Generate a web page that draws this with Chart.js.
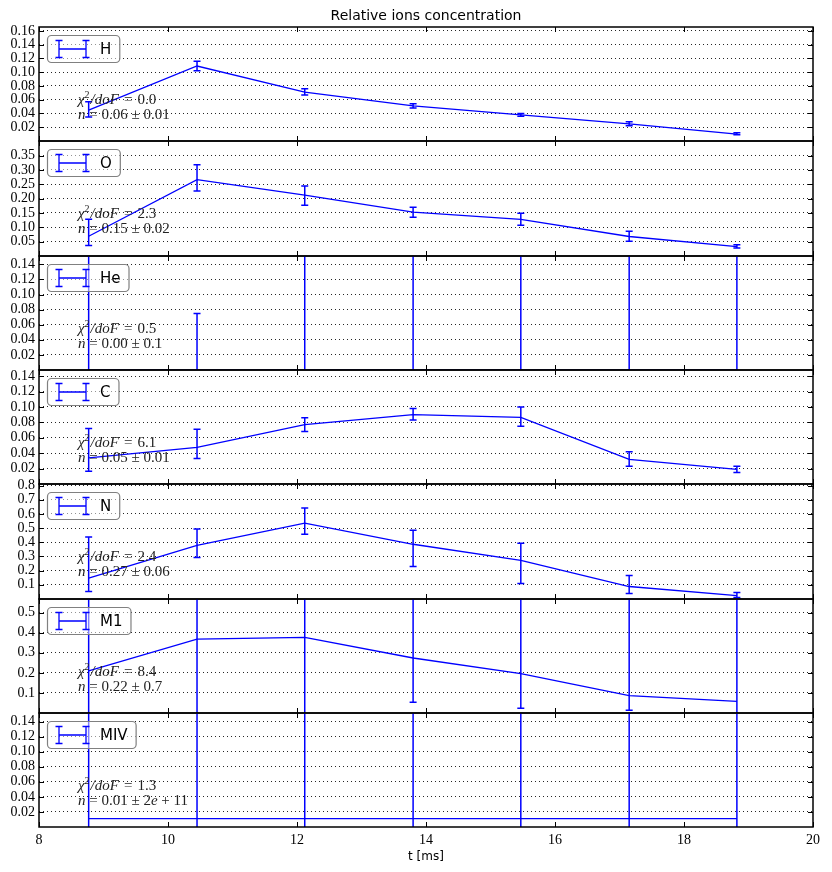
<!DOCTYPE html>
<html>
<head>
<meta charset="utf-8">
<script src="https://cdn.jsdelivr.net/npm/chart.js@4/dist/chart.umd.min.js"></script>
<style>
body { margin: 0; background: #fff; }
#wrap { position: relative; width: 832px; height: 872px; overflow: hidden; background: #fff; }
#wrap canvas { position: absolute; left: 0; }
</style>
</head>
<body>
<div id="wrap"></div>
<script>
// time points (ms) and x tick labels
var tVals = [8.77, 10.45, 12.12, 13.80, 15.47, 17.15, 18.82];
var xTickLabels = ['8', '10', '12', '14', '16', '18', '20'];

// H
var hVals = [0.045, 0.109, 0.071, 0.051, 0.038, 0.025, 0.010];
var hLo   = [0.035, 0.102, 0.067, 0.048, 0.036, 0.022, 0.009];
var hHi   = [0.057, 0.116, 0.076, 0.054, 0.040, 0.028, 0.012];
var hTicks = ['0.02', '0.04', '0.06', '0.08', '0.10', '0.12', '0.14', '0.16'];

// O
var oVals = [0.069, 0.266, 0.212, 0.153, 0.128, 0.068, 0.033];
var oLo   = [0.037, 0.227, 0.177, 0.135, 0.107, 0.051, 0.028];
var oHi   = [0.128, 0.318, 0.244, 0.170, 0.149, 0.086, 0.039];
var oTicks = ['0.05', '0.10', '0.15', '0.20', '0.25', '0.30', '0.35'];

// He
var heVals = [0, 0, 0, 0, 0, 0, 0];
var heLo   = [-0.21, -0.075, -0.32, -0.45, -0.38, -0.29, -0.25];
var heHi   = [0.21, 0.075, 0.32, 0.45, 0.38, 0.29, 0.25];
var heTicks = ['0.02', '0.04', '0.06', '0.08', '0.10', '0.12', '0.14'];

// C
var cVals = [0.034, 0.0475, 0.077, 0.090, 0.0865, 0.032, 0.019];
var cLo   = [0.0165, 0.033, 0.068, 0.083, 0.075, 0.023, 0.015];
var cHi   = [0.072, 0.071, 0.086, 0.098, 0.100, 0.042, 0.023];
var cTicks = ['0.02', '0.04', '0.06', '0.08', '0.10', '0.12', '0.14'];

// N
var nVals = [0.147, 0.379, 0.535, 0.386, 0.272, 0.088, 0.024];
var nLo   = [0.053, 0.292, 0.457, 0.230, 0.109, 0.038, 0.010];
var nHi   = [0.438, 0.493, 0.642, 0.485, 0.393, 0.166, 0.045];
var nTicks = ['0.1', '0.2', '0.3', '0.4', '0.5', '0.6', '0.7', '0.8'];

// M1
var m1Vals = [0.210, 0.368, 0.377, 0.274, 0.196, 0.087, 0.058];
var m1Lo   = [-0.49, -0.33, -0.32, 0.053, 0.024, 0.014, -0.64];
var m1Hi   = [0.91, 1.07, 1.07, 0.99, 0.92, 0.79, 0.76];
var m1Ticks = ['0.1', '0.2', '0.3', '0.4', '0.5'];

// MIV
var mivVals = [0.011, 0.011, 0.011, 0.011, 0.011, 0.011, 0.011];
var mivLo   = [-0.5, -0.5, -0.5, -0.5, -0.5, -0.5, -0.5];
var mivHi   = [0.5, 0.5, 0.5, 0.5, 0.5, 0.5, 0.5];
var mivTicks = ['0.02', '0.04', '0.06', '0.08', '0.10', '0.12', '0.14'];

var ionNames = ['H', 'O', 'He', 'C', 'N', 'M1', 'MIV'];
var yMax = [0.1657, 0.401, 0.151, 0.148, 0.811, 0.568, 0.1514];
var chiTexts = ['0.0', '2.3', '0.5', '6.1', '2.4', '8.4', '1.3'];
var nTexts = ['0.06 ± 0.01', '0.15 ± 0.02', '0.00 ± 0.1', '0.05 ± 0.01', '0.27 ± 0.06', '0.22 ± 0.7', '0.01 ± 2e + 11'];

var panels = [
  { vals: hVals, lo: hLo, hi: hHi, ticks: hTicks },
  { vals: oVals, lo: oLo, hi: oHi, ticks: oTicks },
  { vals: heVals, lo: heLo, hi: heHi, ticks: heTicks },
  { vals: cVals, lo: cLo, hi: cHi, ticks: cTicks },
  { vals: nVals, lo: nLo, hi: nHi, ticks: nTicks },
  { vals: m1Vals, lo: m1Lo, hi: m1Hi, ticks: m1Ticks },
  { vals: mivVals, lo: mivLo, hi: mivHi, ticks: mivTicks }
];

var BLUE = '#0000ff';
var PAD = 20;
var wrap = document.getElementById('wrap');

// draw a line of "math" text: letters italic, rest upright
function drawMath(ctx, x, y, parts) {
  parts.forEach(function (p) {
    ctx.font = (p.it ? 'italic ' : '') + p.size + 'px "Liberation Serif"';
    ctx.fillText(p.t, x + (p.pre || 0), y + (p.dy || 0));
    x += (p.pre || 0) + ctx.measureText(p.t).width + (p.gap || 0);
  });
}

function splitRuns(str) {
  var out = [];
  str.split(/([a-zA-Z]+)/).forEach(function (s) {
    if (s) out.push({ t: s, it: /[a-zA-Z]/.test(s), size: 15 });
  });
  return out;
}

function makePlugin(i) {
  var p = panels[i];
  return {
    id: 'panel' + i,
    afterDatasetsDraw: function (chart) {
      var ctx = chart.ctx, a = chart.chartArea;
      var xs = chart.scales.x, ys = chart.scales.y;
      ctx.save();
      ctx.beginPath();
      ctx.rect(a.left, a.top, a.right - a.left, a.bottom - a.top);
      ctx.clip();
      ctx.strokeStyle = BLUE;
      ctx.lineWidth = 1.5;
      tVals.forEach(function (t, k) {
        var x = xs.getPixelForValue(t);
        var y1 = ys.getPixelForValue(p.lo[k]);
        var y2 = ys.getPixelForValue(p.hi[k]);
        ctx.beginPath();
        ctx.moveTo(x, y1); ctx.lineTo(x, y2);
        ctx.moveTo(x - 3.5, y1); ctx.lineTo(x + 3.5, y1);
        ctx.moveTo(x - 3.5, y2); ctx.lineTo(x + 3.5, y2);
        ctx.stroke();
      });
      ctx.restore();
    },
    afterDraw: function (chart) {
      var ctx = chart.ctx, a = chart.chartArea;
      var xs = chart.scales.x, ys = chart.scales.y;
      ctx.save();

      // fit annotation
      ctx.fillStyle = '#222';
      ctx.textBaseline = 'middle';
      ctx.textAlign = 'left';
      var tx = a.left + 39;
      drawMath(ctx, tx, a.top + 73, [
        { t: 'χ', it: true, size: 15 },
        { t: '2', size: 10, dy: -5, gap: 1 },
        { t: '/doF', it: true, size: 15, gap: 2 },
        { t: '=', size: 15, pre: 3, gap: 5 },
        { t: chiTexts[i], size: 15 }
      ]);
      drawMath(ctx, tx, a.top + 88.5, [{ t: 'n', it: true, size: 15 }, { t: ' = ', size: 15 }].concat(splitRuns(nTexts[i])));

      // frame
      ctx.strokeStyle = '#000';
      ctx.lineWidth = 1.5;
      ctx.strokeRect(a.left, a.top, a.right - a.left, a.bottom - a.top);

      // inward ticks
      ctx.lineWidth = 1;
      ctx.beginPath();
      xTickLabels.forEach(function (t) {
        var x = Math.round(xs.getPixelForValue(parseFloat(t))) + 0.5;
        ctx.moveTo(x, a.top); ctx.lineTo(x, a.top + 5);
        ctx.moveTo(x, a.bottom); ctx.lineTo(x, a.bottom - 5);
      });
      p.ticks.forEach(function (t) {
        var y = Math.round(ys.getPixelForValue(parseFloat(t))) + 0.5;
        ctx.moveTo(a.left, y); ctx.lineTo(a.left + 5, y);
        ctx.moveTo(a.right, y); ctx.lineTo(a.right - 5, y);
      });
      ctx.stroke();

      // legend box
      var bx = a.left + 8, by = a.top + 8, bh = 27;
      ctx.font = '15px "DejaVu Sans"';
      var bw = 53 + ctx.measureText(ionNames[i]).width + 8;
      ctx.beginPath();
      ctx.roundRect(bx + 0.5, by + 0.5, bw, bh, 4);
      ctx.fillStyle = 'rgba(255,255,255,0.5)';
      ctx.fill();
      ctx.strokeStyle = '#808080';
      ctx.lineWidth = 1.2;
      ctx.stroke();

      var cy = by + 14;
      ctx.strokeStyle = BLUE;
      ctx.lineWidth = 1.3;
      ctx.beginPath();
      ctx.moveTo(bx + 12, cy); ctx.lineTo(bx + 39, cy);
      [bx + 12, bx + 39].forEach(function (x) {
        ctx.moveTo(x, cy - 8.5); ctx.lineTo(x, cy + 8.5);
        ctx.moveTo(x - 3.5, cy - 8.5); ctx.lineTo(x + 3.5, cy - 8.5);
        ctx.moveTo(x - 3.5, cy + 8.5); ctx.lineTo(x + 3.5, cy + 8.5);
      });
      ctx.stroke();
      ctx.fillStyle = '#000';
      ctx.font = '15px "DejaVu Sans"';
      ctx.textBaseline = 'middle';
      ctx.fillText(ionNames[i], bx + 53, cy + 1);

      ctx.restore();
    }
  };
}

panels.forEach(function (p, i) {
  var first = i === 0, last = i === panels.length - 1;
  var pTop = Math.round(27 + i * 114.3);
  var pBot = Math.round(27 + (i + 1) * 114.3);
  var cTop = first ? 0 : pTop - PAD;
  var cBot = last ? 872 : pBot + PAD;

  var canvas = document.createElement('canvas');
  canvas.width = 832;
  canvas.height = cBot - cTop;
  canvas.style.top = cTop + 'px';
  wrap.appendChild(canvas);

  new Chart(canvas.getContext('2d'), {
    type: 'line',
    data: {
      datasets: [{
        label: ionNames[i],
        data: tVals.map(function (t, k) { return { x: t, y: p.vals[k] }; }),
        borderColor: BLUE,
        borderWidth: 1.3,
        pointRadius: 0,
        fill: false,
        tension: 0
      }]
    },
    options: {
      responsive: false,
      animation: false,
      devicePixelRatio: 1,
      layout: { padding: { left: 0, right: 19, top: first ? 0 : PAD, bottom: last ? 0 : PAD } },
      scales: {
        x: {
          type: 'linear',
          min: 8,
          max: 20,
          display: last,
          afterBuildTicks: function (s) {
            s.ticks = xTickLabels.map(function (t) { return { value: parseFloat(t) }; });
          },
          afterFit: function (s) { s.height = last ? 872 - pBot : 0; },
          ticks: {
            autoSkip: false,
            maxRotation: 0,
            padding: 5,
            color: '#000',
            font: { family: 'Liberation Serif', size: 14 },
            callback: function (v, idx) { return xTickLabels[idx]; }
          },
          grid: { display: false, drawTicks: false },
          border: { display: false },
          title: {
            display: true,
            text: 't [ms]',
            color: '#000',
            font: { family: 'DejaVu Sans', size: 12 },
            padding: { top: 0, bottom: 8 }
          }
        },
        y: {
          min: 0,
          max: yMax[i],
          afterFit: function (s) { s.width = 39; },
          afterBuildTicks: function (s) {
            s.ticks = p.ticks.map(function (t) { return { value: parseFloat(t) }; });
          },
          ticks: {
            autoSkip: false,
            padding: 4,
            color: '#000',
            font: { family: 'Liberation Serif', size: 14 },
            callback: function (v, idx) { return p.ticks[idx]; }
          },
          grid: { color: 'rgba(0,0,0,0.85)', lineWidth: 1, drawTicks: false },
          border: { display: false, dash: [1, 3] }
        }
      },
      plugins: {
        legend: { display: false },
        tooltip: { enabled: false },
        title: {
          display: first,
          text: 'Relative ions concentration',
          fullSize: false,
          color: '#000',
          font: { family: 'DejaVu Sans', size: 14, weight: 'normal' },
          padding: { top: 8, bottom: 2.2 }
        }
      }
    },
    plugins: [makePlugin(i)]
  });
});
</script>
</body>
</html>
